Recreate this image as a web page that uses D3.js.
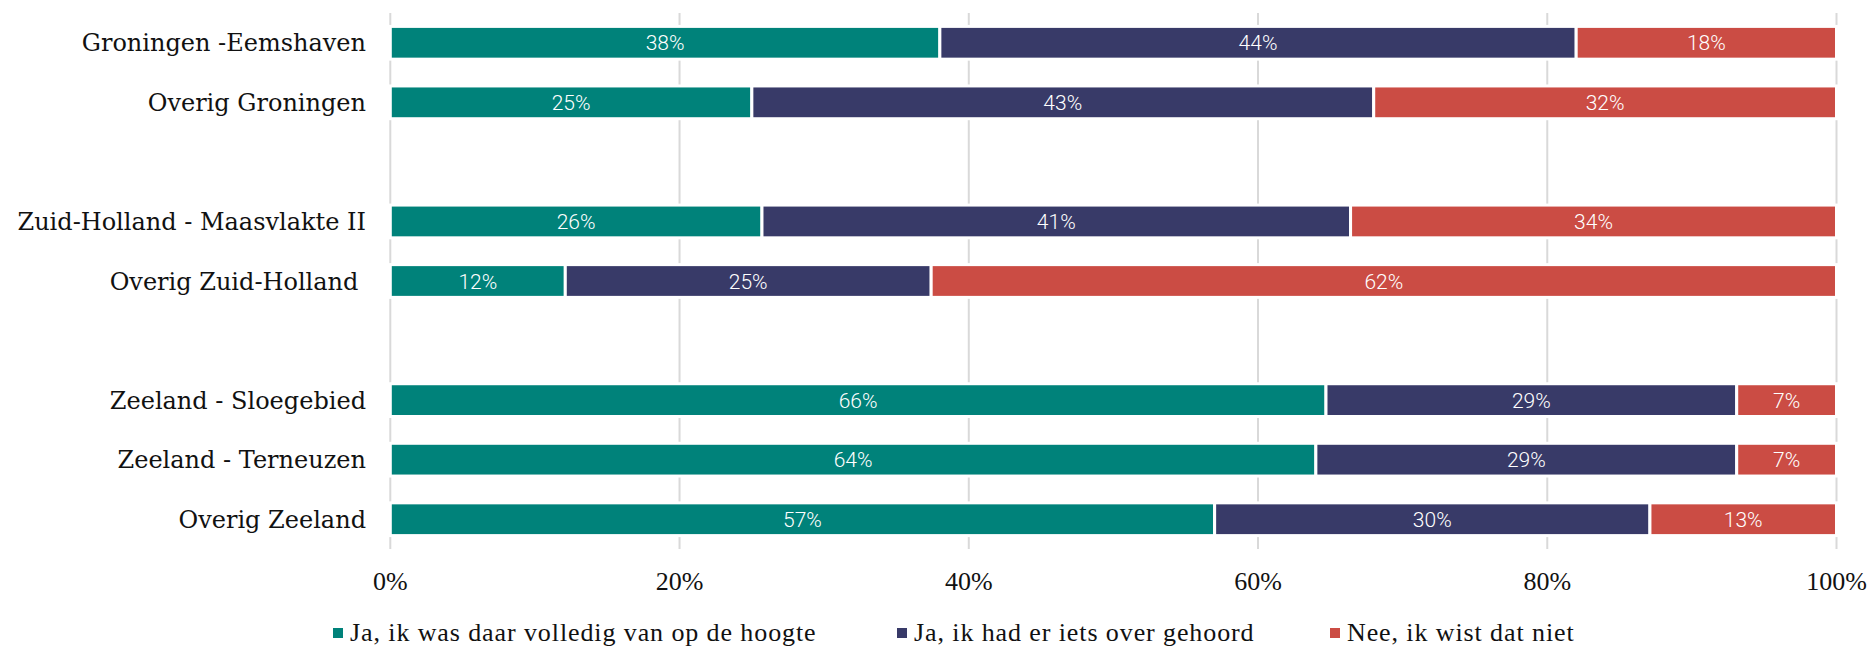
<!DOCTYPE html>
<html>
<head>
<meta charset="utf-8">
<script src="https://cdn.jsdelivr.net/npm/d3@7"></script>
<style>
  body { margin: 0; background: #fff; }
  svg { display: block; }
  text { white-space: pre; }
</style>
</head>
<body>
<svg id="chart" width="1872" height="648"></svg>
<script>
// rows, "" = empty spacer row between the regions
const regions = [
  'Groningen -Eemshaven',
  'Overig Groningen',
  '',
  'Zuid-Holland - Maasvlakte II',
  'Overig Zuid-Holland ',
  '',
  'Zeeland - Sloegebied',
  'Zeeland - Terneuzen',
  'Overig Zeeland'
]

const seriesNames = [
  'Ja, ik was daar volledig van op de hoogte',
  'Ja, ik had er iets over gehoord',
  'Nee, ik wist dat niet'
]
const colors = ['#00827a', '#383a68', '#cb4c44']

// bar lengths (%), per series, null for spacer rows
const volledig = [38, 25, null, 25.7, 12.1, null, 64.7, 64.0, 57.0]
const gehoord  = [44, 43, null, 40.7, 25.3, null, 28.4, 29.1, 30.1]
const nietOp   = [18, 32, null, 33.6, 62.6, null, 6.9, 6.9, 12.9]

// the printed labels on the bars
const volledigLbl = ['38%', '25%', null, '26%', '12%', null, '66%', '64%', '57%']
const gehoordLbl  = ['44%', '43%', null, '41%', '25%', null, '29%', '29%', '30%']
const nietOpLbl   = ['18%', '32%', null, '34%', '62%', null, '7%', '7%', '13%']

const xTicks = [0, 20, 40, 60, 80, 100]

const svg = d3.select('#chart')

const x = d3.scaleLinear().domain([0, 100]).range([390.3, 1836.5])
const y = d3.scaleBand()
  .domain(d3.range(regions.length))
  .range([13, 549])
  .paddingInner(0.45)
  .paddingOuter(0.225)

// gridlines
svg.append('g').selectAll('line')
  .data(xTicks)
  .join('line')
    .attr('x1', d => x(d)).attr('x2', d => x(d))
    .attr('y1', 13).attr('y2', 549)
    .attr('stroke', '#d9d9d9')
    .attr('stroke-width', 2)

// tick labels
svg.append('g').selectAll('text')
  .data(xTicks)
  .join('text')
    .attr('x', d => x(d))
    .attr('y', 581)
    .attr('dy', '0.35em')
    .attr('text-anchor', 'middle')
    .attr('font-family', 'Liberation Serif, serif')
    .attr('font-size', 26)
    .attr('fill', '#111')
    .text(d => d + '%')

// stack the series
const values = [volledig, gehoord, nietOp]
const labels = [volledigLbl, gehoordLbl, nietOpLbl]
const segs = []
regions.forEach((r, i) => {
  if (volledig[i] == null) return
  let start = 0
  values.forEach((s, k) => {
    segs.push({ row: i, k: k, x0: start, x1: start + s[i], label: labels[k][i] })
    start += s[i]
  })
})

const bars = svg.append('g')
bars.selectAll('rect')
  .data(segs)
  .join('rect')
    .attr('x', d => x(d.x0))
    .attr('width', d => x(d.x1) - x(d.x0))
    .attr('y', d => y(d.row))
    .attr('height', y.bandwidth())
    .attr('fill', d => colors[d.k])
    .attr('stroke', '#fff')
    .attr('stroke-width', 3)

bars.selectAll('text')
  .data(segs)
  .join('text')
    .attr('x', d => (x(d.x0) + x(d.x1)) / 2)
    .attr('y', d => y(d.row) + y.bandwidth() / 2)
    .attr('dy', '0.36em')
    .attr('text-anchor', 'middle')
    .attr('font-family', 'Roboto, sans-serif')
    .attr('font-weight', 300)
    .attr('font-size', 21)
    .attr('fill', '#fff')
    .text(d => d.label)

// category labels
svg.append('g').selectAll('text')
  .data(regions.map((r, i) => ({ r, i })).filter(d => d.r !== ''))
  .join('text')
    .attr('x', 366)
    .attr('y', d => y(d.i) + y.bandwidth() / 2)
    .attr('dy', '0.36em')
    .attr('text-anchor', 'end')
    .attr('font-family', 'DejaVu Serif, serif')
    .attr('font-size', 24)
    .attr('fill', '#111')
    .text(d => d.r)

// legend
const legendX = [333, 897, 1330]
const legend = svg.append('g').selectAll('g')
  .data(seriesNames)
  .join('g')
    .attr('transform', (d, i) => `translate(${legendX[i]},632)`)
legend.append('rect')
  .attr('x', 0).attr('y', -4)
  .attr('width', 10).attr('height', 10)
  .attr('fill', (d, i) => colors[i])
legend.append('text')
  .attr('x', 17)
  .attr('dy', '0.33em')
  .attr('font-family', 'Liberation Serif, serif')
  .attr('font-size', 26)
  .attr('letter-spacing', 0.9)
  .attr('fill', '#111')
  .text(d => d)
</script>
</body>
</html>
